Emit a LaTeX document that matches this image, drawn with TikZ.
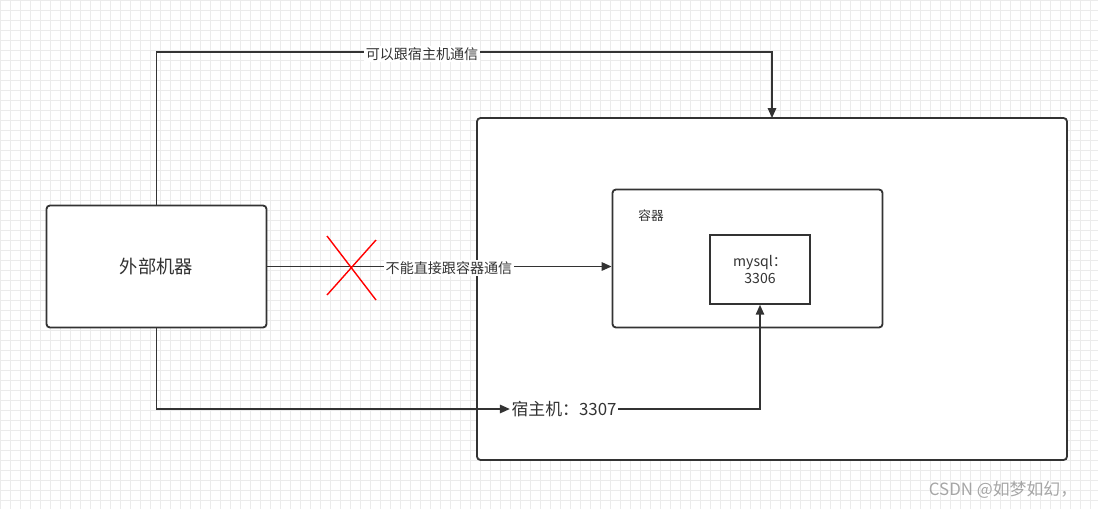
\documentclass[tikz,border=0pt]{standalone}
\usepackage{fontspec}
\setmainfont{Noto Sans CJK SC}
\usetikzlibrary{positioning,arrows.meta}
\definecolor{linegray}{HTML}{333333}
\definecolor{gridgray}{HTML}{EBEBEB}
\tikzset{
  box/.style={draw=linegray,line width=1.3pt,fill=white,rounded corners=2.5pt},
  link/.style={draw=linegray,line width=1pt,-{Triangle[length=7pt,width=6pt]}},
  tag/.style={fill=white,inner sep=1pt,text=linegray,font=\fontsize{10}{12}\selectfont}
}
\begin{document}
\begin{tikzpicture}[x=0.025cm,y=-0.025cm]
  \useasboundingbox (0,0) rectangle (1098,509);
  % background grid
  \fill[white] (0,0) rectangle (1098,509);
  \foreach \gx in {0,10,...,1090} \draw[gridgray,line width=0.3pt] (\gx,0) -- (\gx,509);
  \foreach \gy in {0,10,...,500} \draw[gridgray,line width=0.3pt] (0,\gy) -- (1098,\gy);

  % boxes
  \draw[box] (477,118) rectangle (1067,460);
  \coordinate (hosttop) at (772,118);
  \coordinate (topbend) at (772,52);
  \node[box,minimum width=5.5cm,minimum height=3.05cm,font=\fontsize{13}{15}\selectfont,text=linegray] (outside) at (156.5,266.5) {外部机器};
  \node[box,minimum width=6.75cm,minimum height=3.45cm] (container) at (747.5,258.5) {};
  \node[font=\fontsize{9}{11}\selectfont,text=linegray] (containerlabel) at (651,216) {容器};
  \node[draw=linegray,line width=1.3pt,fill=white,minimum width=2.5cm,minimum height=1.72cm,
        align=center,font=\fontsize{10}{12}\selectfont,text=linegray] (mysql) at (760,269.5) {mysql：\\ 3306};
  \node[font=\fontsize{12}{14}\selectfont,inner sep=1pt,text=linegray] (hostport) at (564,409) {宿主机：3307};

  % connectors
  \draw[link] (outside.north) |- (topbend) -- (hosttop);
  \node[tag] (toplabel) at (422,54) {可以跟宿主机通信};
  \draw[link] (outside.east) -- (container.west |- outside.east);
  \node[tag] (midlabel) at (449,268) {不能直接跟容器通信};
  \draw[red,line width=1pt] (327,236) -- (376,300) (376,240) -- (327,295);
  \draw[link] (outside.south) |- (hostport.west);
  \draw[link] (hostport.east) -| (mysql.south);

  % watermark
  \node[text=gray!70,font=\fontsize{12}{14}\selectfont] (mark) at (1003,490) {CSDN @如梦如幻，};
\end{tikzpicture}
\end{document}
